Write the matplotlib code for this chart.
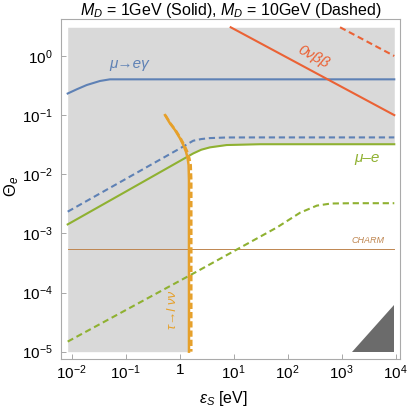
import numpy as np
import matplotlib
matplotlib.use('Agg')
import matplotlib.pyplot as plt
from matplotlib.ticker import FixedLocator, FixedFormatter, NullLocator

plt.rcParams['font.family'] = ['Liberation Sans', 'DejaVu Sans']
plt.rcParams['mathtext.fontset'] = 'custom'
plt.rcParams['mathtext.rm'] = 'Liberation Sans'
plt.rcParams['mathtext.it'] = 'Liberation Sans:italic'
plt.rcParams['mathtext.bf'] = 'Liberation Sans:bold'

# data
eps_min, eps_max = 0.00843, 9420
theta_top = 3.06

# mu -> e gamma (blue)
eps_meg_1 = [0.00843, 0.0126, 0.019, 0.0334, 0.051, 0.1, 1, 10, 100, 1000, 9420]
theta_meg_1 = [0.232, 0.275, 0.323, 0.378, 0.403, 0.403, 0.403, 0.403, 0.403, 0.403, 0.403]
eps_meg_10 = [0.00843, 0.1, 1.014, 1.78, 2.51, 3.63, 7.41, 31.6, 9420]
theta_meg_10 = [0.00233, 0.00832, 0.0274, 0.0369, 0.0394, 0.0409, 0.0419, 0.042, 0.042]

# mu - e conversion (green)
eps_mue_1 = [0.00843, 0.1, 1.78, 2.51, 3.63, 7.41, 30.9, 9420]
theta_mue_1 = [0.00142, 0.00508, 0.0225, 0.0260, 0.0285, 0.0312, 0.0322, 0.0322]
eps_mue_10 = [0.00843, 2.07, 63.1, 170, 347, 631, 1585, 9420]
theta_mue_10 = [1.48e-5, 2.26e-4, 1.26e-3, 2.24e-3, 2.95e-3, 3.20e-3, 3.24e-3, 3.24e-3]

# 0nubb (red)
eps_bb_1 = [8.8, 9420]
theta_bb_1 = [3.06, 0.1]
eps_bb_10 = [933, 9420]
theta_bb_10 = [3.06, 1.0]

# tau -> l nu nu (orange)
theta_tau = [0.1, 0.0726, 0.056, 0.0405, 0.0312, 0.0240, 0.0186, 0.0143, 0.0079, 1e-5]
eps_tau_1 = [0.535, 0.661, 0.818, 1.014, 1.167, 1.309, 1.406, 1.462, 1.486, 1.486]
eps_tau_10 = [0.543, 0.673, 0.836, 1.042, 1.216, 1.38, 1.51, 1.60, 1.64, 1.64]

# CHARM
theta_charm = 5.5e-4

# dark triangle bottom right
tri_eps = [1530, 9420, 9420]
tri_theta = [1e-5, 1e-5, 6.2e-5]

blue = '#5e81b5'
green = '#8fb131'
red = '#eb6235'
orange = '#e6a02a'
brown = '#bf8650'

fig = plt.figure(figsize=(4.09, 4.09), dpi=100)
ax = fig.add_axes([61/409, 1-359/409, 339/409, 340.5/409])
ax.set_xscale('log')
ax.set_yscale('log')
ax.set_xlim(10**-2.198, 10**4.08)
ax.set_ylim(10**-5.124, 10**0.634)

# excluded region
ax.fill_between(eps_mue_1, theta_mue_1, theta_top, color='#d9d9d9', lw=0, zorder=0)
ax.fill_betweenx(theta_tau, eps_min, eps_tau_1, color='#d9d9d9', lw=0, zorder=0)
ax.fill(tri_eps, tri_theta, color='#6b6b6b', lw=0, zorder=1)

ax.plot([eps_min, eps_max], [theta_charm, theta_charm], color=brown, lw=0.7, zorder=2)

dash = (3, 1.8)
ax.plot(eps_mue_1, theta_mue_1, color=green, lw=1.5, zorder=3)
ax.plot(eps_mue_10, theta_mue_10, color=green, lw=1.5, dashes=dash, zorder=3)
ax.plot(eps_meg_1, theta_meg_1, color=blue, lw=1.5, zorder=3)
ax.plot(eps_meg_10, theta_meg_10, color=blue, lw=1.5, dashes=dash, zorder=3)
ax.plot(eps_tau_1, theta_tau, color=orange, lw=1.8, zorder=4)
ax.plot(eps_tau_10, theta_tau, color=orange, lw=1.8, dashes=(2.5, 1.2), zorder=4)
ax.plot(eps_bb_1, theta_bb_1, color=red, lw=1.5, zorder=4)
ax.plot(eps_bb_10, theta_bb_10, color=red, lw=1.5, dashes=dash, zorder=4)

# labels on curves
ax.text(0.115, 0.732, 'μ→eγ', color=blue, fontsize=11, style='italic', ha='center', va='center')
ax.text(295, 0.96, '0νββ', color=red, fontsize=11, style='italic', ha='center', va='center',
        rotation=-28.5)
ax.text(2950, 0.0188, 'μ–e', color=green, fontsize=11, style='italic', ha='center', va='center')
ax.text(3090, 7.7e-4, 'CHARM', color=brown, fontsize=6.5, style='italic', ha='center', va='center')
ax.text(0.767, 5.0e-5, 'τ→l νν', color=orange, fontsize=9.5, style='italic', ha='center',
        va='center', rotation=90)

# ticks
xt = [1e-2, 1e-1, 1, 1e1, 1e2, 1e3, 1e4]
xl = [r'$10^{-2}$', r'$10^{-1}$', '1', r'$10^{1}$', r'$10^{2}$', r'$10^{3}$', r'$10^{4}$']
yt = [1e-5, 1e-4, 1e-3, 1e-2, 1e-1, 1]
yl = [r'$10^{-5}$', r'$10^{-4}$', r'$10^{-3}$', r'$10^{-2}$', r'$10^{-1}$', r'$10^{0}$']
ax.xaxis.set_major_locator(FixedLocator(xt))
ax.xaxis.set_major_formatter(FixedFormatter(xl))
ax.yaxis.set_major_locator(FixedLocator(yt))
ax.yaxis.set_major_formatter(FixedFormatter(yl))
ax.xaxis.set_minor_locator(NullLocator())
ax.yaxis.set_minor_locator(NullLocator())
ax.tick_params(direction='in', length=3.5, width=0.6, color='#999999', labelsize=11)
ax.tick_params(axis='x', pad=3)
ax.tick_params(axis='y', pad=6)
for s in ax.spines.values():
    s.set_color('#aaaaaa')
    s.set_linewidth(0.8)

fig.text(231/409, 1-10/409, r'$M_D$ = 1GeV (Solid), $M_D$ = 10GeV (Dashed)', fontsize=11.5,
         ha='center', va='center')
fig.text(223/409, 1-398/409, r'$\epsilon_S$ [eV]', fontsize=11.5, ha='center', va='center')
fig.text(12/409, 1-186/409, r'$\Theta_e$', fontsize=12, ha='center', va='center', rotation=90)

fig.savefig('out.png', dpi=100)
